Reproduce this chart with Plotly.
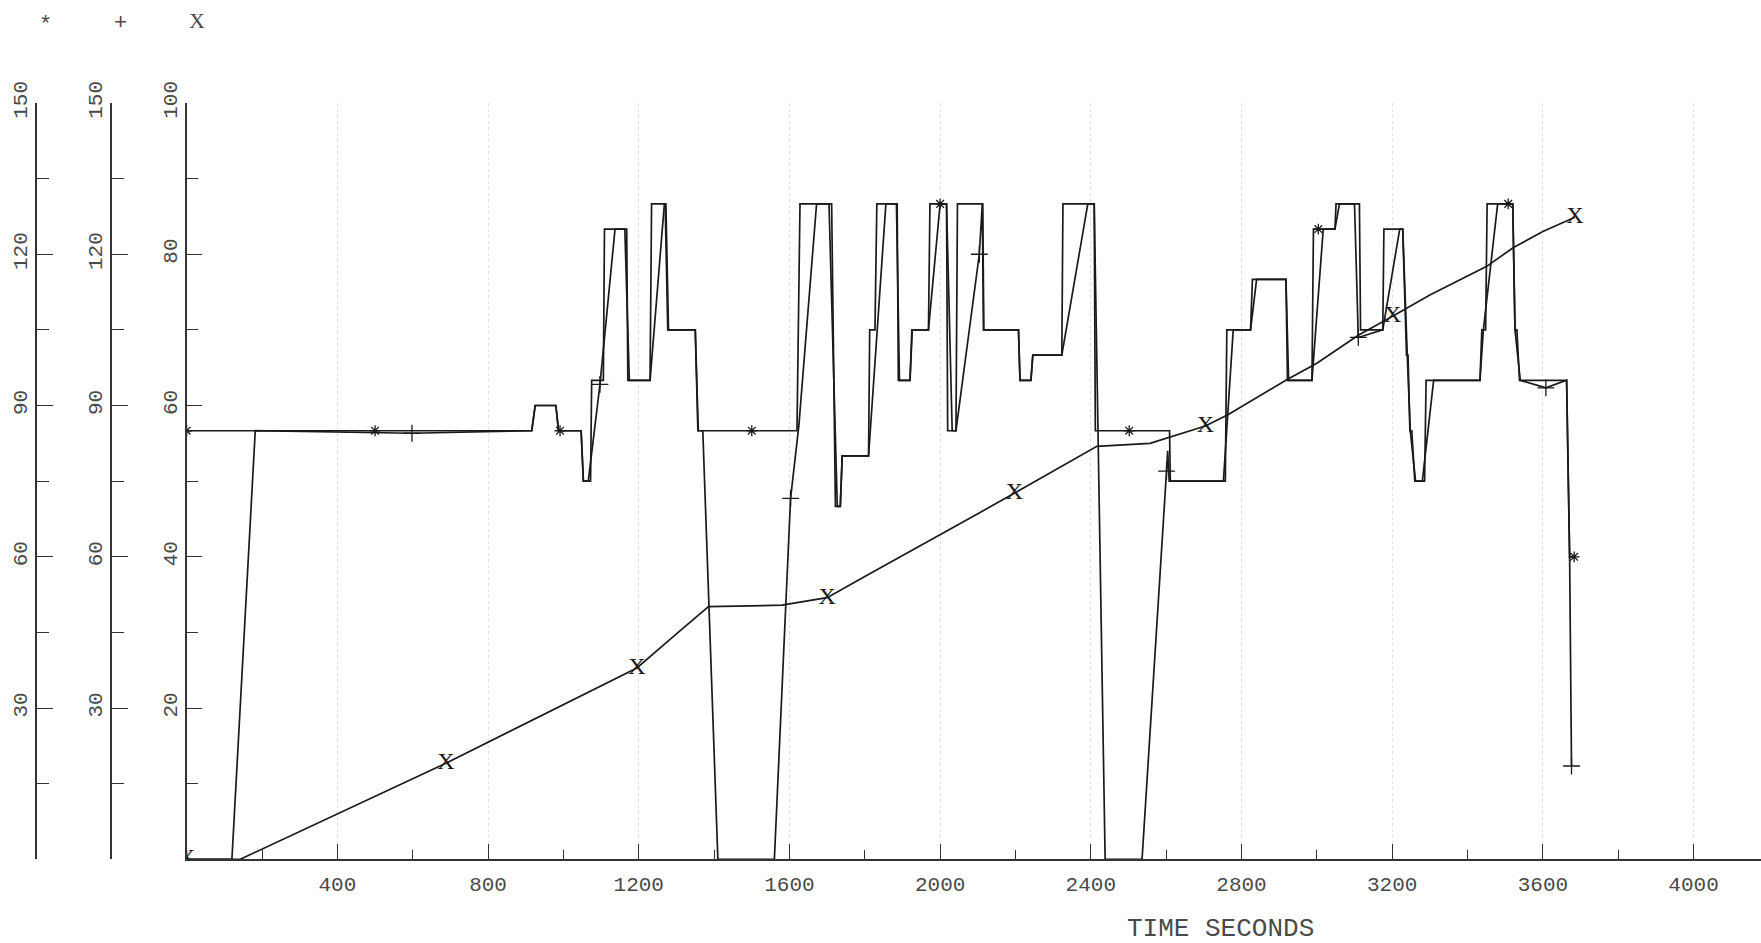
import plotly.graph_objects as go

# ---- data -------------------------------------------------------------
# "*" trace (left-most scale, 0-150): stepped signal
star_t = [0, 916, 925, 980, 987, 1047, 1053, 1072, 1075, 1106, 1109, 1168, 1171,
          1230, 1234, 1270, 1277, 1350, 1357, 1620, 1628, 1712, 1722, 1735, 1740,
          1810, 1813, 1827, 1832, 1886, 1889, 1920, 1925, 1969, 1973, 2017, 2020,
          2042, 2046, 2113, 2116, 2208, 2212, 2241, 2246, 2323, 2326, 2409, 2412,
          2609, 2611, 2757, 2761, 2824, 2829, 2918, 2922, 2987, 2991, 3048, 3051,
          3113, 3116, 3175, 3178, 3228, 3238, 3242, 3247, 3252, 3260, 3286, 3290,
          3433, 3438, 3448, 3452, 3520, 3526, 3531, 3538, 3663, 3671, 3683]
star_v = [85, 85, 90, 90, 85, 85, 75, 75, 95, 95, 125, 125, 95,
          95, 130, 130, 105, 105, 85, 85, 130, 130, 70, 70, 80,
          80, 105, 105, 130, 130, 95, 95, 105, 105, 130, 130, 85,
          85, 130, 130, 105, 105, 95, 95, 100, 100, 130, 130, 85,
          85, 75, 75, 105, 105, 115, 115, 95, 95, 125, 125, 130,
          130, 105, 105, 125, 125, 100, 100, 85, 85, 75, 75, 95,
          95, 105, 105, 130, 130, 105, 105, 95, 95, 60, 60]

# "+" trace (second scale, 0-150): ramped response
plus_t = [0, 120, 182, 598, 916, 925, 980, 987, 1047, 1053, 1066, 1097, 1137,
          1163, 1175, 1230, 1268, 1272, 1279, 1350, 1358, 1370, 1410, 1560, 1603,
          1625, 1672, 1705, 1727, 1735, 1740, 1810, 1856, 1884, 1892, 1920, 1926,
          1969, 2000, 2017, 2032, 2042, 2104, 2112, 2115, 2208, 2212, 2241, 2246,
          2323, 2392, 2409, 2438, 2536, 2601, 2604, 2608, 2752, 2778, 2824, 2840,
          2918, 2925, 2987, 3017, 3048, 3060, 3100, 3110, 3175, 3220, 3228, 3240,
          3248, 3262, 3280, 3310, 3433, 3442, 3480, 3520, 3526, 3540, 3608, 3663,
          3671, 3676]
plus_v = [0, 0, 85, 84.5, 85, 90, 90, 85, 85, 75, 75, 94.2, 125,
          125, 95, 95, 130, 130, 105, 105, 85, 85, 0, 0, 71.6,
          86, 130, 130, 70, 70, 80, 80, 130, 130, 95, 95, 105,
          105, 130, 130, 85, 85, 120, 130, 105, 105, 95, 95, 100,
          100, 130, 130, 0, 0, 77, 81, 75, 75, 105, 105, 115,
          115, 95, 95, 125, 125, 130, 130, 103.5, 105, 125, 125, 100,
          85, 75, 75, 95, 95, 105, 130, 130, 105, 95, 93.5, 95,
          60, 18.5]

# "X" trace (third scale, 0-100): cumulative curve
x_t = [0, 142, 688, 1115, 1195, 1300, 1385, 1580, 1700, 1800, 1900, 2000, 2100,
       2197, 2300, 2416, 2557, 2601, 2704, 2765, 2920, 3000, 3110, 3201, 3300,
       3451, 3522, 3600, 3685]
x_v = [0, 0, 12.7, 23.3, 25.3, 29.8, 33.4, 33.6, 34.6, 37.4, 40.2, 43.0, 45.7,
       48.4, 51.3, 54.6, 55.0, 55.7, 57.3, 58.8, 63.4, 65.6, 69.3, 71.8, 74.6,
       78.4, 80.9, 83.0, 84.9]

# symbol positions along each trace
star_mark_t = [0, 500, 991, 1500, 2000, 2502, 3004, 3508, 3683]
star_mark_v = [85, 85, 85, 85, 130, 85, 125, 130, 60]
plus_mark_t = [0, 598, 1097, 1603, 2104, 2601, 3110, 3608, 3676]
plus_mark_v = [0, 84.5, 94.2, 71.6, 120, 77, 103.5, 93.5, 18.5]
x_mark_t = [0, 688, 1195, 1700, 2197, 2704, 3201, 3685]
x_mark_v = [0, 12.7, 25.3, 34.6, 48.4, 57.3, 71.8, 84.9]

# axis ticks
time_ticks = [400, 800, 1200, 1600, 2000, 2400, 2800, 3200, 3600, 4000]
scale150_ticks = [0, 30, 60, 90, 120, 150]
scale100_ticks = [0, 20, 40, 60, 80, 100]
grid100 = [20, 40, 60, 80]

# ---- layout geometry ---------------------------------------------------
W, H = 1761, 943
FONT = "Liberation Mono"
SERIF = "Liberation Serif"
INK = "#1a1a1a"
AX = "#333333"
TXT = "#4a4a4a"
GRID = "#e2e2e2"

x_left = 186.7 / W
y_bot = (H - 859.3) / H
y_top = (H - 103.0) / H

fig = go.Figure()

line_style = dict(color=INK, width=1.7)
fig.add_trace(go.Scatter(x=star_t, y=star_v, mode="lines", line=line_style,
                         yaxis="y3", showlegend=False, hoverinfo="skip"))
fig.add_trace(go.Scatter(x=plus_t, y=plus_v, mode="lines", line=line_style,
                         yaxis="y2", showlegend=False, hoverinfo="skip"))
fig.add_trace(go.Scatter(x=x_t, y=x_v, mode="lines", line=line_style,
                         yaxis="y", showlegend=False, hoverinfo="skip"))

fig.add_trace(go.Scatter(x=star_mark_t, y=star_mark_v, mode="markers",
                         marker=dict(symbol="asterisk-open", size=9, color=INK,
                                     line=dict(color=INK, width=1.3)),
                         yaxis="y3", showlegend=False, hoverinfo="skip"))
fig.add_trace(go.Scatter(x=plus_mark_t, y=plus_mark_v, mode="markers",
                         marker=dict(symbol="cross-thin-open", size=12, color=INK,
                                     line=dict(color=INK, width=1.3)),
                         yaxis="y2", showlegend=False, hoverinfo="skip"))
fig.add_trace(go.Scatter(x=x_mark_t, y=x_mark_v, mode="text",
                         text=["X"] * len(x_mark_t), textposition="middle center",
                         textfont=dict(family=SERIF, size=24, color=INK),
                         yaxis="y", showlegend=False, hoverinfo="skip"))

common_y = dict(
    ticks="inside", ticklen=16, tickwidth=1.3, tickcolor=AX,
    showline=True, linecolor=AX, linewidth=1.5,
    showgrid=False, zeroline=False, tickangle=-90, automargin=False,
    tickfont=dict(family=FONT, size=21, color=TXT),
    domain=[y_bot, y_top], side="left",
)

fig.update_layout(
    width=W, height=H,
    margin=dict(l=0, r=0, t=0, b=0, pad=0, autoexpand=False),
    paper_bgcolor="white", plot_bgcolor="white",
    xaxis=dict(
        domain=[x_left, 1], range=[0, 4179],
        tickmode="array", tickvals=time_ticks,
        ticktext=[str(v) for v in time_ticks],
        ticks="inside", ticklen=16, tickwidth=1.3, tickcolor=AX,
        minor=dict(tick0=0, dtick=200, ticks="inside", ticklen=10,
                   tickwidth=1.3, tickcolor=AX, showgrid=False),
        showline=True, linecolor=AX, linewidth=1.5,
        showgrid=True, gridcolor=GRID, griddash="dot", gridwidth=1,
        zeroline=False, ticklabelstandoff=5, automargin=False,
        tickfont=dict(family=FONT, size=21, color=TXT),
        anchor="y",
    ),
    yaxis=dict(
        range=[0, 100], tickmode="array", tickvals=scale100_ticks,
        ticktext=[""] + [str(v) for v in scale100_ticks[1:]],
        minor=dict(tick0=0, dtick=10, ticks="inside", ticklen=12,
                   tickwidth=1.3, tickcolor=AX, showgrid=False),
        anchor="x", **common_y,
    ),
    yaxis2=dict(
        range=[0, 150], tickmode="array", tickvals=scale150_ticks,
        ticktext=[""] + [str(v) for v in scale150_ticks[1:]],
        minor=dict(tick0=0, dtick=15, ticks="inside", ticklen=12,
                   tickwidth=1.3, tickcolor=AX, showgrid=False),
        overlaying="y", anchor="free", position=111 / W, **common_y,
    ),
    yaxis3=dict(
        range=[0, 150], tickmode="array", tickvals=scale150_ticks,
        ticktext=[""] + [str(v) for v in scale150_ticks[1:]],
        minor=dict(tick0=0, dtick=15, ticks="inside", ticklen=12,
                   tickwidth=1.3, tickcolor=AX, showgrid=False),
        overlaying="y", anchor="free", position=36 / W, **common_y,
    ),
    # faint dotted horizontal guide lines on the 0-100 scale
    yaxis4=dict(
        range=[0, 100], domain=[y_bot, y_top], overlaying="y", anchor="x",
        tickmode="array", tickvals=grid100, showticklabels=False, ticks="",
        showline=False, zeroline=False, automargin=False,
        showgrid=True, gridcolor=GRID, griddash="dot", gridwidth=1,
    ),
)

# scale identifiers above each axis
legend_marks = [("*", FONT, 45.7, 26), ("+", FONT, 120.7, 23.5), ("X", SERIF, 196.7, 20.7)]
for sym, fam, px, py in legend_marks:
    fig.add_annotation(text=sym, x=px / W, y=1 - py / H, xref="paper", yref="paper",
                       xanchor="center", yanchor="middle", showarrow=False,
                       font=dict(family=fam, size=22, color=TXT))

fig.add_annotation(text="TIME SECONDS", x=1220 / W, y=-0.003, xref="paper", yref="paper",
                   xanchor="center", yanchor="bottom", showarrow=False,
                   font=dict(family=FONT, size=26, color=TXT))

fig.write_html("out.html")
